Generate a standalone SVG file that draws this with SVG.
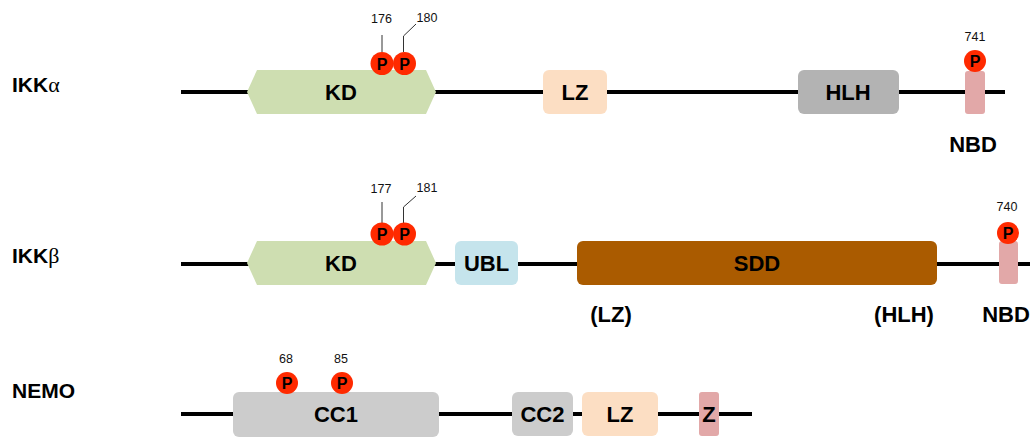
<svg xmlns="http://www.w3.org/2000/svg" width="1030" height="437" viewBox="0 0 1030 437">
  <style>
    .bb { stroke: #000; stroke-width: 4; fill: none; }
    .lead { stroke: #333; stroke-width: 1; fill: none; }
    .lbl { font-family: "Liberation Sans", Arial, sans-serif; font-weight: bold; font-size: 22px; fill: #000; text-anchor: middle; }
    .name { font-family: "Liberation Sans", Arial, sans-serif; font-weight: bold; font-size: 21px; fill: #000; }
    .greek { font-family: "Liberation Serif", "Times New Roman", serif; font-weight: normal; font-size: 22px; }
    .num { font-family: "Liberation Sans", Arial, sans-serif; font-size: 12.5px; fill: #111; text-anchor: middle; }
    .p { fill: #FF2A00; }
    .pt { font-family: "Liberation Sans", Arial, sans-serif; font-weight: bold; font-size: 16px; fill: #000; text-anchor: middle; }
    .kd { fill: #CEDEB1; }
    .lz { fill: #FCDEC3; }
    .hlh { fill: #B3B3B3; }
    .ubl { fill: #C5E4EC; }
    .sdd { fill: #AA5B00; }
    .cc { fill: #CCCCCC; }
    .nbd { fill: #E2A8A8; }
  </style>

  <!-- protein backbones and site leader lines -->
  <g id="connectors">
    <line class="bb" x1="181" y1="92" x2="1005" y2="92"/>
    <line class="bb" x1="181" y1="264" x2="1030" y2="264"/>
    <line class="bb" x1="181" y1="414" x2="752" y2="414"/>
    <line class="lead" x1="382" y1="35" x2="382" y2="52"/>
    <polyline class="lead" points="403.5,52 403.5,36 416,24"/>
    <line class="lead" x1="382" y1="202" x2="382" y2="223"/>
    <polyline class="lead" points="403.5,223 403.5,207 416,196"/>
  </g>

  <!-- protein names -->
  <g id="names">
    <text class="name" x="12" y="92">IKK<tspan class="greek">α</tspan></text>
    <text class="name" x="12" y="263">IKK<tspan class="greek">β</tspan></text>
    <text class="name" x="12" y="398">NEMO</text>
  </g>

  <!-- IKKα -->
  <g id="ikka-kd">
    <polygon class="kd" points="247,92 257,70 426,70 436,92 426,114 257,114"/>
    <text class="lbl" x="341" y="100">KD</text>
  </g>
  <g id="ikka-lz">
    <rect class="lz" x="543" y="70" width="64" height="44" rx="6"/>
    <text class="lbl" x="575" y="100">LZ</text>
  </g>
  <g id="ikka-hlh">
    <rect class="hlh" x="798" y="70" width="101" height="44" rx="6"/>
    <text class="lbl" x="848" y="100">HLH</text>
  </g>
  <g id="ikka-nbd">
    <rect class="nbd" x="965" y="71" width="20" height="43" rx="3"/>
    <text class="lbl" x="973" y="152">NBD</text>
  </g>
  <g id="ikka-p176">
    <circle class="p" cx="382" cy="63.5" r="11.5"/>
    <text class="pt" x="382" y="69.5">P</text>
    <text class="num" x="381.5" y="22.5">176</text>
  </g>
  <g id="ikka-p180">
    <circle class="p" cx="404.5" cy="63.5" r="11.5"/>
    <text class="pt" x="404.5" y="69.5">P</text>
    <text class="num" x="427" y="22">180</text>
  </g>
  <g id="ikka-p741">
    <circle class="p" cx="975" cy="61" r="11"/>
    <text class="pt" x="975" y="67">P</text>
    <text class="num" x="975" y="40.5">741</text>
  </g>

  <!-- IKKβ -->
  <g id="ikkb-kd">
    <polygon class="kd" points="247,263 257,241 426,241 436,263 426,285 257,285"/>
    <text class="lbl" x="341" y="271">KD</text>
  </g>
  <g id="ikkb-ubl">
    <rect class="ubl" x="455" y="241" width="63" height="44" rx="6"/>
    <text class="lbl" x="486.5" y="271">UBL</text>
  </g>
  <g id="ikkb-sdd">
    <rect class="sdd" x="577" y="241" width="360" height="44" rx="6"/>
    <text class="lbl" x="757" y="271">SDD</text>
    <text class="lbl" x="611" y="322">(LZ)</text>
    <text class="lbl" x="904" y="322">(HLH)</text>
  </g>
  <g id="ikkb-nbd">
    <rect class="nbd" x="999" y="241" width="19" height="43" rx="3"/>
    <text class="lbl" x="1006" y="322">NBD</text>
  </g>
  <g id="ikkb-p177">
    <circle class="p" cx="382" cy="234" r="11.5"/>
    <text class="pt" x="382" y="240">P</text>
    <text class="num" x="381" y="193">177</text>
  </g>
  <g id="ikkb-p181">
    <circle class="p" cx="404.5" cy="234" r="11.5"/>
    <text class="pt" x="404.5" y="240">P</text>
    <text class="num" x="427" y="192">181</text>
  </g>
  <g id="ikkb-p740">
    <circle class="p" cx="1008" cy="233" r="11"/>
    <text class="pt" x="1008" y="239">P</text>
    <text class="num" x="1007" y="211">740</text>
  </g>

  <!-- NEMO -->
  <g id="nemo-cc1">
    <rect class="cc" x="233" y="392" width="206" height="45" rx="6"/>
    <text class="lbl" x="336" y="422">CC1</text>
  </g>
  <g id="nemo-cc2">
    <rect class="cc" x="512" y="392" width="61" height="44" rx="6"/>
    <text class="lbl" x="542.5" y="422">CC2</text>
  </g>
  <g id="nemo-lz">
    <rect class="lz" x="582" y="392" width="76" height="44" rx="6"/>
    <text class="lbl" x="620" y="422">LZ</text>
  </g>
  <g id="nemo-z">
    <rect class="nbd" x="699" y="392" width="20" height="44" rx="3"/>
    <text class="lbl" x="709" y="422">Z</text>
  </g>
  <g id="nemo-p68">
    <circle class="p" cx="287" cy="383" r="11"/>
    <text class="pt" x="287" y="389">P</text>
    <text class="num" x="286" y="363">68</text>
  </g>
  <g id="nemo-p85">
    <circle class="p" cx="342" cy="383" r="11"/>
    <text class="pt" x="342" y="389">P</text>
    <text class="num" x="341" y="363">85</text>
  </g>
</svg>
